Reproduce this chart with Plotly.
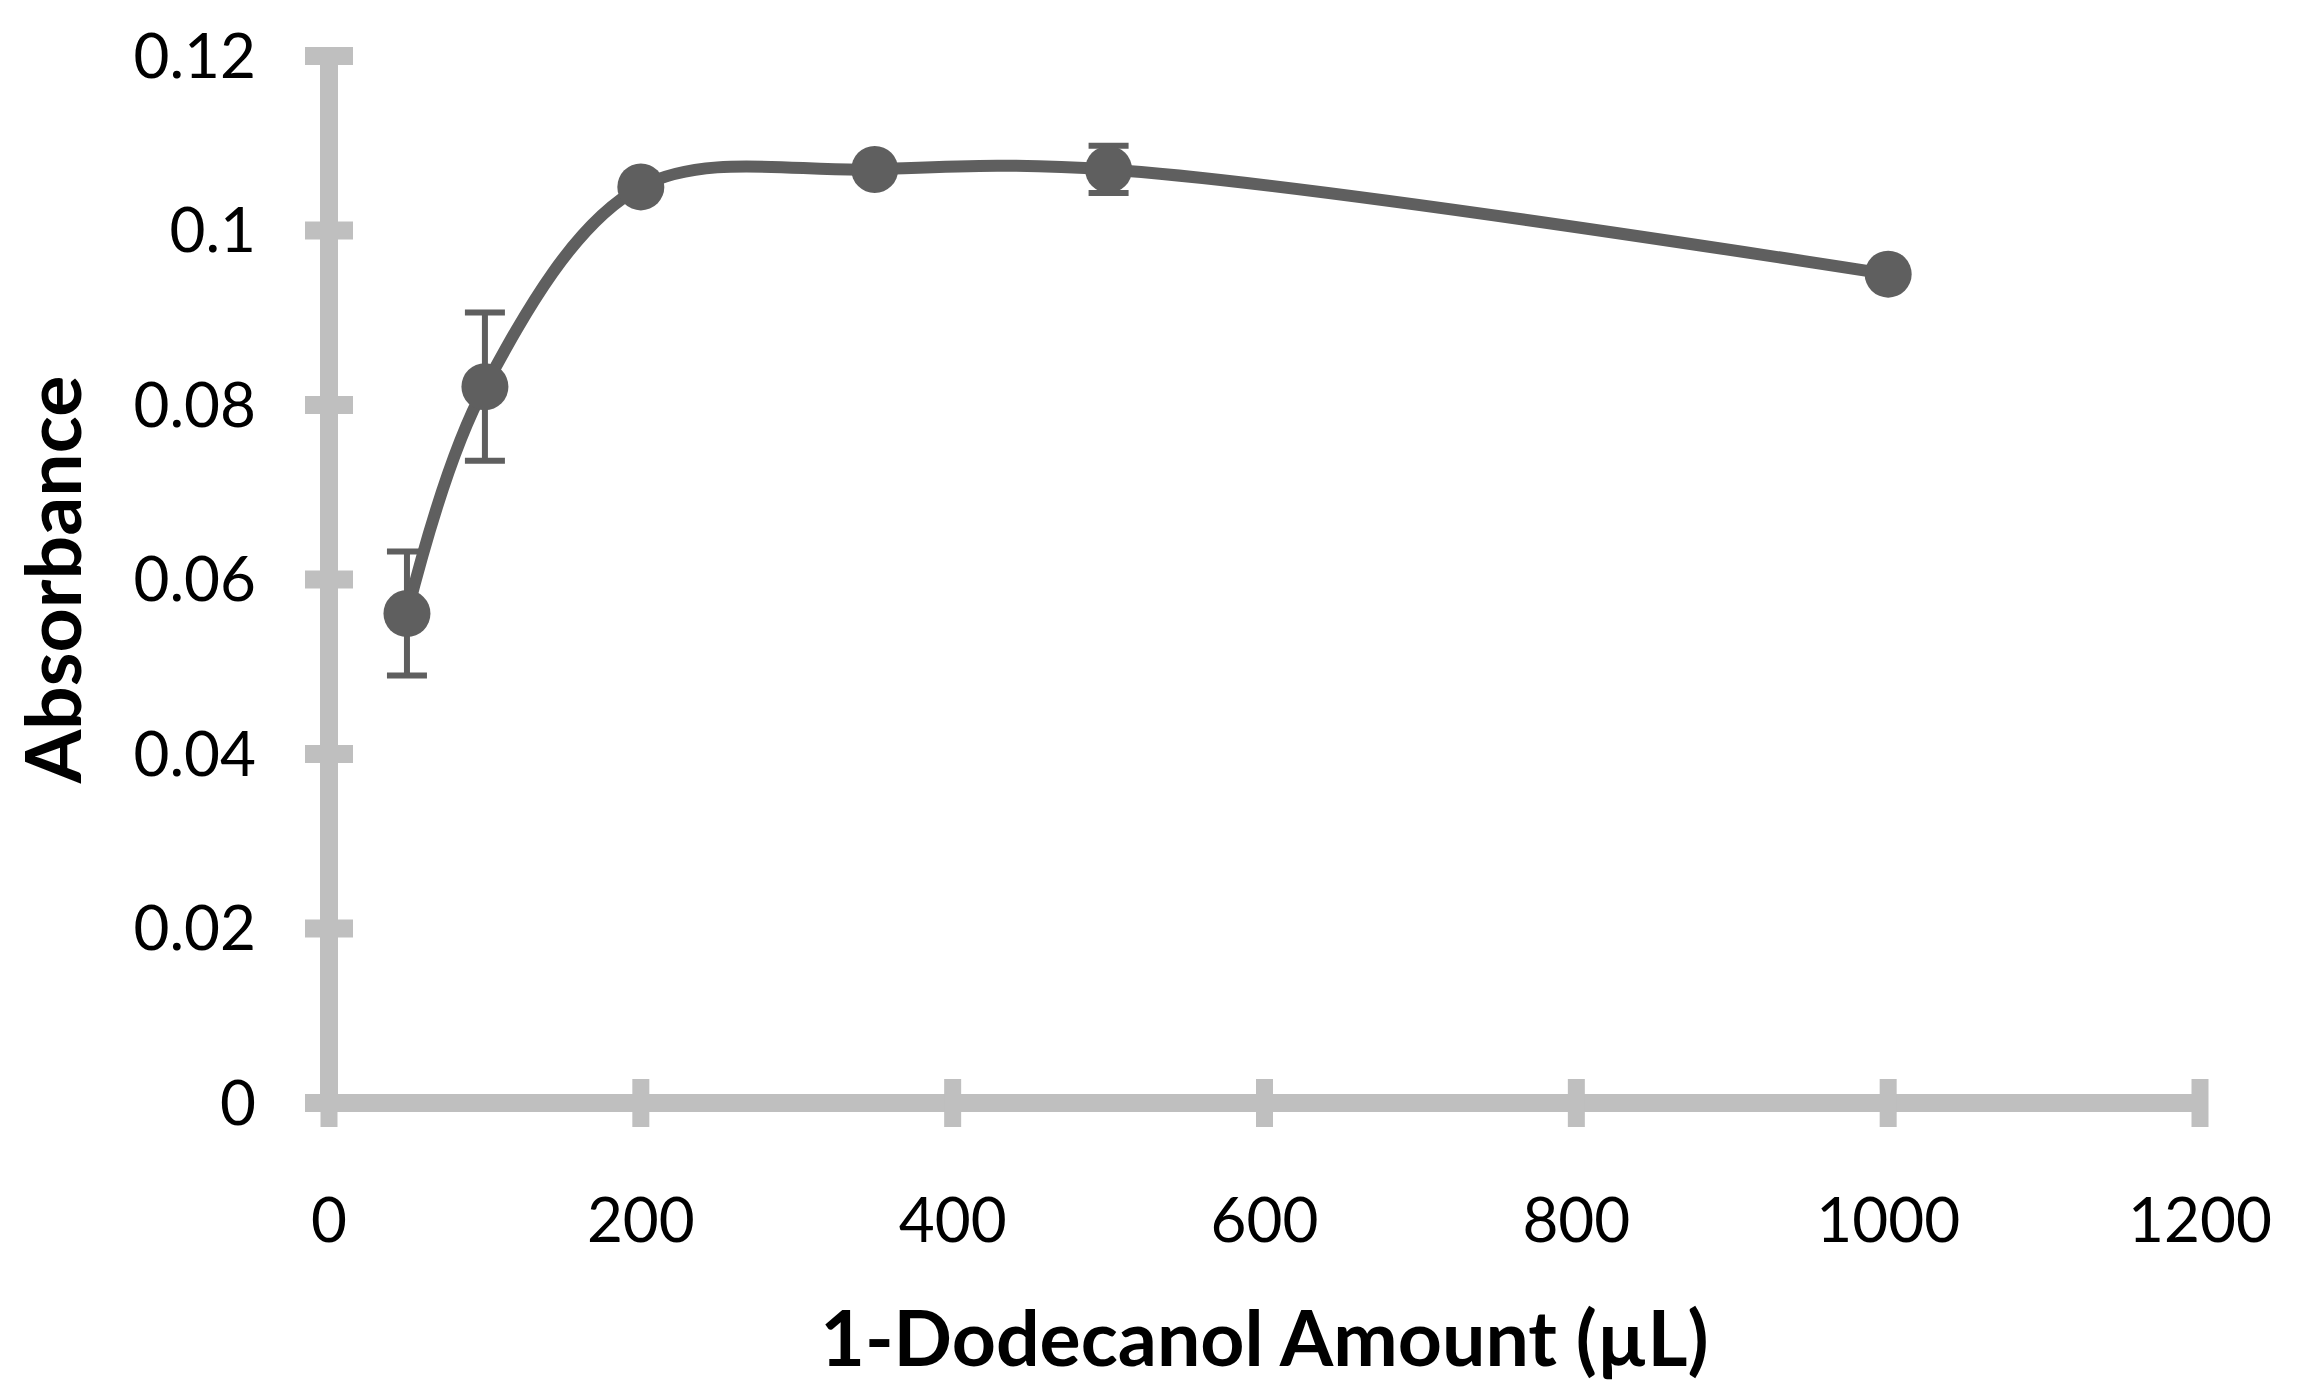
import plotly.graph_objects as go

# Data
amount_ul = [50, 100, 200, 350, 500, 1000]
absorbance = [0.0561, 0.0821, 0.105, 0.107, 0.107, 0.095]
abs_error = [0.0071, 0.0085, None, None, 0.0027, None]

x_ticks = [0, 200, 400, 600, 800, 1000, 1200]
y_ticks = [0, 0.02, 0.04, 0.06, 0.08, 0.1, 0.12]
y_tick_text = ["0", "0.02", "0.04", "0.06", "0.08", "0.1", "0.12"]

x_title = "1-Dodecanol Amount (µL)"
y_title = "Absorbance"

AXIS_COLOR = "#BFBFBF"
DATA_COLOR = "#5F5F5F"
FONT = "Lato"

fig = go.Figure()
fig.add_trace(go.Scatter(
    x=amount_ul, y=absorbance,
    mode="lines+markers",
    line=dict(color=DATA_COLOR, width=12, shape="spline", smoothing=1.0),
    marker=dict(color=DATA_COLOR, size=47, line=dict(width=0)),
    error_y=dict(type="data", array=abs_error, visible=True,
                 color=DATA_COLOR, thickness=6, width=20),
    showlegend=False,
    cliponaxis=False,
))

x_min, x_max = x_ticks[0], x_ticks[-1]
y_min, y_max = y_ticks[0], y_ticks[-1]


def xfrac(v):
    return (v - x_min) / (x_max - x_min)


def yfrac(v):
    return (v - y_min) / (y_max - y_min)


# Axis lines and cross-shaped tick marks, in axis-domain coordinates (not clipped)
shapes = [
    dict(type="line", xref="x domain", yref="y domain", x0=0, x1=1, y0=0, y1=0,
         line=dict(color=AXIS_COLOR, width=18), layer="below"),
    dict(type="line", xref="x domain", yref="y domain", x0=0, x1=0, y0=0, y1=1,
         line=dict(color=AXIS_COLOR, width=18), layer="below"),
]
for xv in x_ticks:
    shapes.append(dict(type="line", xref="x domain", yref="y domain",
                       ysizemode="pixel", yanchor=0, y0=-24, y1=24,
                       x0=xfrac(xv), x1=xfrac(xv),
                       line=dict(color=AXIS_COLOR, width=17), layer="below"))
for yv in y_ticks:
    shapes.append(dict(type="line", xref="x domain", yref="y domain",
                       xsizemode="pixel", xanchor=0, x0=-24, x1=24,
                       y0=yfrac(yv), y1=yfrac(yv),
                       line=dict(color=AXIS_COLOR, width=18), layer="below"))

fig.update_layout(
    width=2308, height=1383,
    margin=dict(l=329, r=108, t=56, b=280),
    paper_bgcolor="white", plot_bgcolor="white",
    font=dict(family=FONT, color="black", size=62),
    shapes=shapes,
)
fig.update_xaxes(
    range=[x_min, x_max], tickvals=x_ticks, ticktext=[str(v) for v in x_ticks],
    showgrid=False, zeroline=False, showline=False, ticks="",
    ticklabelstandoff=76,
    tickfont=dict(family=FONT, size=62, color="black"),
    title=dict(text="<b>%s</b>" % x_title, font=dict(family=FONT, size=77, color="black"), standoff=58),
)
fig.update_yaxes(
    range=[y_min, y_max], tickvals=y_ticks, ticktext=y_tick_text,
    showgrid=False, zeroline=False, showline=False, ticks="",
    ticklabelstandoff=72,
    tickfont=dict(family=FONT, size=62, color="black"),
    title=dict(text="<b>%s</b>" % y_title, font=dict(family=FONT, size=77, color="black"), standoff=26),
)

fig.write_html("out.html",
               config={"displayModeBar": False},
               post_script="document.body.style.margin='0';document.body.style.overflow='hidden';")
